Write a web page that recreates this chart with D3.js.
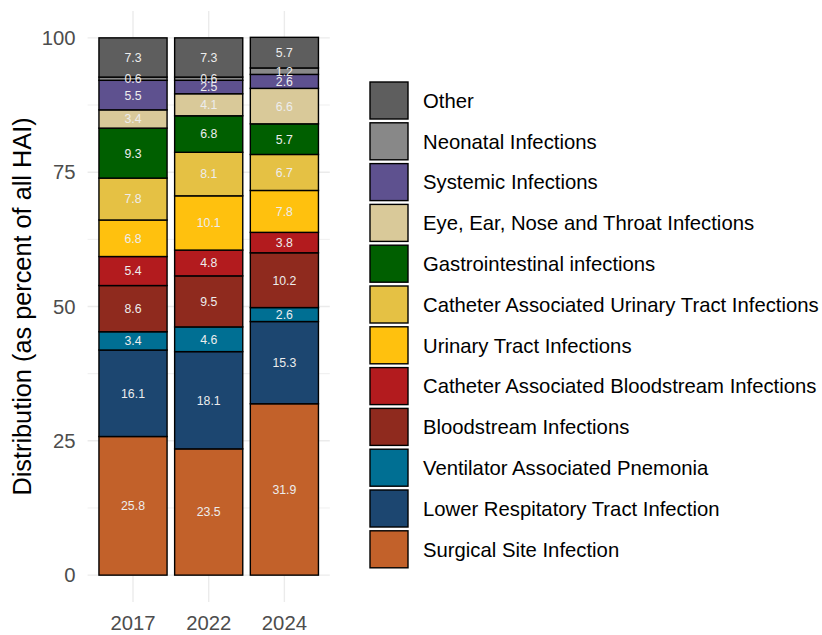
<!DOCTYPE html>
<html>
<head>
<meta charset="utf-8">
<script src="https://cdn.jsdelivr.net/npm/d3@7"></script>
<style>
    body { margin: 0; background: #fff; }
    svg.vis { display: block; font-family: "Liberation Sans", Arial, sans-serif; }
</style>
</head>
<body>
<svg class="vis" width="822" height="635"></svg>
<script>

// categories, bottom of the stack first
const infections = [
    "Surgical Site Infection",
    "Lower Respitatory Tract Infection",
    "Ventilator Associated Pnemonia",
    "Bloodstream Infections",
    "Catheter Associated Bloodstream Infections",
    "Urinary Tract Infections",
    "Catheter Associated Urinary Tract Infections",
    "Gastrointestinal infections",
    "Eye, Ear, Nose and Throat Infections",
    "Systemic Infections",
    "Neonatal Infections",
    "Other"
];

const years = ["2017", "2022", "2024"];

// percent of all HAI, same order as infections
const values_2017 = [25.8, 16.1, 3.4, 8.6, 5.4, 6.8, 7.8, 9.3, 3.4, 5.5, 0.6, 7.3];
const values_2022 = [23.5, 18.1, 4.6, 9.5, 4.8, 10.1, 8.1, 6.8, 4.1, 2.5, 0.6, 7.3];
const values_2024 = [31.9, 15.3, 2.6, 10.2, 3.8, 7.8, 6.7, 5.7, 6.6, 2.6, 1.2, 5.7];

const fills = [
    "#C2612A", "#1C4670", "#006F93", "#8F2A1E", "#B31B1E", "#FFC10E",
    "#E5C144", "#005F00", "#D9C999", "#5E518F", "#888888", "#5E5E5E"
];

const y_ticks = [0, 25, 50, 75, 100];
const y_minor = [12.5, 37.5, 62.5, 87.5];

const vis = {

    sels: { svg: null },

    dims: {
        panel: { left: 87.6, right: 329.8, top: 11, bottom: 602 }
    },

    scales: {},

    f: {

        stack_data: function() {

            const by_year = { "2017": values_2017, "2022": values_2022, "2024": values_2024 };

            const rows = years.map(yr => {
                const row = { year: yr };
                infections.forEach((k, i) => row[k] = by_year[yr][i]);
                return row;
            });

            return d3.stack().keys(infections)(rows);
        },

        make_scales: function() {

            const p = vis.dims.panel;

            vis.scales.x = d3.scaleBand()
                .domain(years)
                .range([p.left, p.right])
                .paddingInner(0.1)
                .paddingOuter(0.15);

            vis.scales.y = d3.scaleLinear()
                .domain([-5, 105])
                .range([p.bottom, p.top]);

            vis.scales.fill = d3.scaleOrdinal()
                .domain(infections)
                .range(fills);
        }
    },

    draw: {

        grid: function() {

            const p = vis.dims.panel;
            const x = vis.scales.x, y = vis.scales.y;
            const g = vis.sels.svg.append("g").attr("stroke", "#EBEBEB");

            g.selectAll("line.minor")
                .data(y_minor)
                .join("line")
                .attr("x1", p.left).attr("x2", p.right)
                .attr("y1", d => y(d)).attr("y2", d => y(d))
                .attr("stroke-width", 0.8);

            g.selectAll("line.major")
                .data(y_ticks)
                .join("line")
                .attr("x1", p.left).attr("x2", p.right)
                .attr("y1", d => y(d)).attr("y2", d => y(d))
                .attr("stroke-width", 1.4);

            g.selectAll("line.vert")
                .data(years)
                .join("line")
                .attr("x1", d => x(d) + x.bandwidth() / 2)
                .attr("x2", d => x(d) + x.bandwidth() / 2)
                .attr("y1", p.top).attr("y2", p.bottom)
                .attr("stroke-width", 1.4);
        },

        bars: function(series) {

            const x = vis.scales.x, y = vis.scales.y;

            const layer = vis.sels.svg.append("g")
                .selectAll("g")
                .data(series)
                .join("g")
                .attr("fill", d => vis.scales.fill(d.key));

            layer.selectAll("rect")
                .data(d => d)
                .join("rect")
                .attr("x", d => x(d.data.year))
                .attr("y", d => y(d[1]))
                .attr("width", x.bandwidth())
                .attr("height", d => y(d[0]) - y(d[1]))
                .attr("stroke", "#000")
                .attr("stroke-width", 1.4);

            // value labels, centred in each segment
            const labels = vis.sels.svg.append("g")
                .attr("fill", "#EDEDED")
                .attr("font-size", 12.3)
                .attr("text-anchor", "middle");

            series.forEach(s => {
                labels.selectAll(null)
                    .data(s)
                    .join("text")
                    .attr("x", d => x(d.data.year) + x.bandwidth() / 2)
                    .attr("y", d => y((d[0] + d[1]) / 2))
                    .attr("dy", "0.36em")
                    .text(d => (d[1] - d[0]).toFixed(1));
            });
        },

        axes: function() {

            const p = vis.dims.panel;
            const x = vis.scales.x, y = vis.scales.y;

            const ya = vis.sels.svg.append("g")
                .attr("transform", `translate(${p.left - 12},0)`)
                .call(d3.axisLeft(y).tickValues(y_ticks).tickSize(0).tickPadding(0));
            ya.select(".domain").remove();
            ya.selectAll("text")
                .attr("fill", "#4D4D4D")
                .attr("font-size", 20.3)
                .attr("font-family", "Liberation Sans, Arial, sans-serif");

            const xa = vis.sels.svg.append("g")
                .attr("transform", `translate(0,${p.bottom + 14})`)
                .call(d3.axisBottom(x).tickSize(0).tickPadding(0));
            xa.select(".domain").remove();
            xa.selectAll("text")
                .attr("fill", "#4D4D4D")
                .attr("font-size", 20.3)
                .attr("font-family", "Liberation Sans, Arial, sans-serif");

            vis.sels.svg.append("text")
                .attr("transform", `translate(31,${(p.top + p.bottom) / 2}) rotate(-90)`)
                .attr("text-anchor", "middle")
                .attr("font-size", 25.3)
                .attr("fill", "#000")
                .text("Distribution (as percent of all HAI)");
        },

        legend: function() {

            const items = infections.slice().reverse();

            const row = vis.sels.svg.append("g")
                .selectAll("g")
                .data(items)
                .join("g")
                .attr("transform", (d, i) => `translate(370,${82 + i * 40.8})`);

            row.append("rect")
                .attr("width", 38)
                .attr("height", 37)
                .attr("fill", d => vis.scales.fill(d))
                .attr("stroke", "#000")
                .attr("stroke-width", 1.4);

            row.append("text")
                .attr("x", 53)
                .attr("y", 18.5)
                .attr("dy", "0.36em")
                .attr("font-size", 20.3)
                .attr("fill", "#000")
                .text(d => d);
        }
    },

    control: {

        init: function() {

            vis.sels.svg = d3.select("svg.vis");
            vis.f.make_scales();

            const series = vis.f.stack_data();

            vis.draw.grid();
            vis.draw.bars(series);
            vis.draw.axes();
            vis.draw.legend();
        }
    }
};

vis.control.init();
</script>
</body>
</html>
